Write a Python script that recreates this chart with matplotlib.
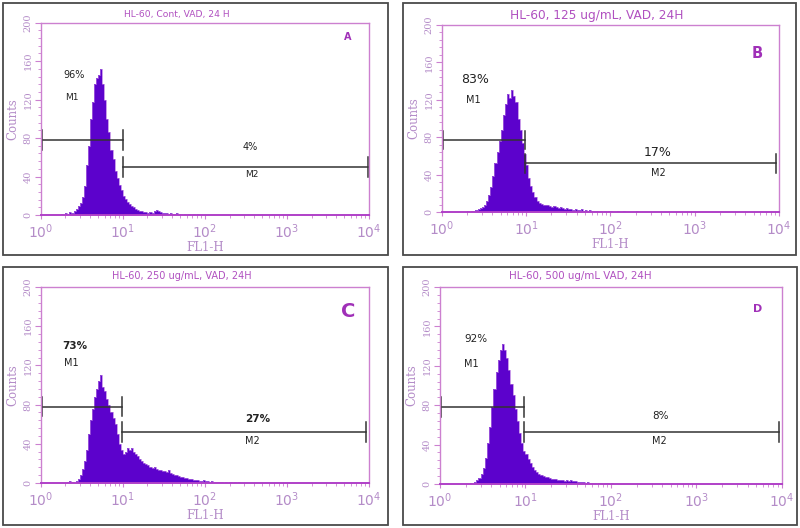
import numpy as np
import matplotlib
matplotlib.use("Agg")
import matplotlib.pyplot as plt
from matplotlib.patches import Rectangle
from matplotlib.ticker import MultipleLocator, LogLocator, NullFormatter

plt.rcParams['mathtext.fontset'] = 'stix'

# ---------------- data ----------------
log_start = 0.25          # log10 of first channel edge
log_step = 0.025          # channel width in log10 units

hist_a = [1, 0, 2, 1, 3, 2, 4, 6, 9, 13, 19, 30, 52, 72, 100, 118, 136, 142, 146, 152,
          136, 120, 100, 86, 68, 58, 46, 38, 31, 26, 20, 17, 14, 11, 9, 8, 6, 5, 4, 4,
          3, 3, 2, 3, 2, 4, 5, 4, 3, 2, 2, 2, 1, 2, 1, 1, 2, 1, 1, 0, 1, 0, 1, 0, 1, 0, 1]
hist_b = [0, 0, 1, 0, 1, 1, 2, 3, 4, 5, 7, 12, 18, 27, 38, 52, 64, 76, 88, 104,
          116, 126, 122, 130, 124, 118, 100, 88, 74, 62, 50, 36, 28, 21, 16, 12, 10, 9, 8, 7,
          7, 6, 5, 6, 5, 4, 5, 4, 3, 4, 3, 3, 2, 3, 2, 2, 3, 1, 2, 1, 2, 1, 1, 1, 0, 1,
          0, 1, 0, 1, 1, 0, 0, 1, 0, 0, 1, 0, 0, 0, 0, 0, 1]
hist_c = [0, 0, 0, 1, 2, 1, 0, 2, 4, 8, 14, 22, 34, 50, 64, 76, 88, 96, 104, 110,
          98, 94, 86, 80, 72, 66, 60, 50, 40, 34, 30, 32, 36, 34, 36, 32, 30, 28, 24, 22,
          20, 19, 18, 16, 15, 16, 14, 13, 13, 12, 12, 11, 13, 10, 9, 8, 8, 7, 6, 6,
          5, 5, 4, 4, 3, 3, 3, 2, 2, 3, 2, 2, 1, 2, 1, 1, 1, 1, 1, 0, 1, 0, 1, 0, 1, 0, 1]
hist_d = [0, 0, 0, 0, 1, 0, 2, 4, 6, 10, 16, 26, 42, 58, 78, 96, 114, 126, 136, 142,
          136, 128, 116, 102, 90, 76, 64, 52, 42, 34, 30, 25, 21, 17, 14, 12, 10, 9, 8, 7,
          7, 6, 5, 5, 5, 4, 4, 4, 3, 4, 3, 4, 3, 3, 2, 2, 2, 2, 1, 2, 1, 1, 1, 0, 1, 1,
          0, 1, 1, 0, 1]

titles = ["HL-60, Cont, VAD, 24 H", "HL-60, 125 ug/mL, VAD, 24H",
          "HL-60, 250 ug/mL, VAD, 24H", "HL-60, 500 ug/mL VAD, 24H"]
letters = ["A", "B", "C", "D"]
m1_pct = ["96%", "83%", "73%", "92%"]
m2_pct = ["4%", "17%", "27%", "8%"]
# marker gates: (low, high, level)
m1_gate = [(1.05, 10.0, 78), (1.03, 9.8, 77), (1.05, 9.9, 78), (1.03, 9.7, 78)]
m2_gate = [(10.0, 9600, 50), (9.8, 9300, 52), (9.9, 9300, 52), (9.7, 9300, 53)]
# label anchor positions (x, y) in data units
m1_pct_pos = [(2.55, 146), (2.48, 142), (2.62, 140), (2.64, 147)]
m1_lab_pos = [(2.40, 122), (2.35, 120), (2.39, 122), (2.35, 122)]
m2_pct_pos = [(355, 71), (359, 64), (435, 65), (377, 69)]
m2_lab_pos = [(370, 42), (368, 42), (376, 43), (367, 44)]
y_ticks = [0, 40, 80, 120, 160, 200]
hists = [hist_a, hist_b, hist_c, hist_d]

# ---------------- layout / style ----------------
W, H = 800, 528
fig = plt.figure(figsize=(8, 5.28), dpi=100)
fig.patch.set_facecolor('white')

def fx(x): return x / W
def fy(y): return 1 - y / H

boxes = [(3, 3, 388, 255), (403, 3, 796, 255), (3, 267, 388, 525), (403, 267, 797, 525)]
axpos = [(40.7, 22.7, 369, 215), (441.7, 25, 779, 212), (40.7, 287, 369, 483), (440, 287, 781.7, 484)]
title_pos = [(177, 15), (597, 15), (182, 276), (580, 276)]
title_size = [6.6, 8.7, 7.0, 7.4]
pct_size = [7, 9, 7.5, 7.5]
pct_weight = ['normal', 'normal', 'bold', 'normal']
letter_pos = [(0.936, 0.927), (0.935, 0.85), (0.936, 0.875), (0.93, 0.89)]
letter_size = [7, 10.5, 14, 8]
m_size = [6.5, 7, 7, 7]

fill_col = '#5c02cc'
edge_col = '#b070e0'
spine_col = '#cc80d0'
tick_col = '#b48cc8'
title_col = '#b050c0'
letter_col = '#a030b8'
gate_col = '#333333'

for i in range(4):
    x0, y0, x1, y1 = boxes[i]
    fig.patches.append(Rectangle((fx(x0), fy(y1)), fx(x1 - x0), (y1 - y0) / H,
                                 transform=fig.transFigure, fill=False,
                                 edgecolor='#4a4a4a', lw=1.3))
    ax0, ay0, ax1, ay1 = axpos[i]
    ax = fig.add_axes([fx(ax0), fy(ay1), fx(ax1 - ax0), (ay1 - ay0) / H])
    counts = np.array(hists[i], dtype=float)
    edges = 10 ** (log_start + log_step * np.arange(len(counts) + 1))
    ax.stairs(counts, edges, fill=True, color=fill_col, lw=0)
    ax.stairs(counts, edges, color=edge_col, lw=0.5)
    ax.set_xscale('log')
    ax.set_xlim(1, 1e4)
    ax.set_ylim(0, 200)
    ax.set_yticks(y_ticks)
    ax.yaxis.set_minor_locator(MultipleLocator(8))
    ax.xaxis.set_major_locator(LogLocator(base=10, numticks=10))
    ax.xaxis.set_minor_locator(LogLocator(base=10, subs=np.arange(2, 10), numticks=20))
    ax.xaxis.set_minor_formatter(NullFormatter())
    for s in ax.spines.values():
        s.set_color(spine_col)
        s.set_linewidth(1.0)
    ax.spines['bottom'].set_color('#b040c8')
    ax.spines['bottom'].set_linewidth(1.4)
    ax.tick_params(axis='both', which='both', colors=spine_col, labelcolor=tick_col)
    ax.tick_params(axis='x', which='major', length=3, labelsize=10, pad=2)
    ax.tick_params(axis='x', which='minor', length=2)
    ax.tick_params(axis='y', which='major', length=4, labelsize=7, pad=2)
    ax.tick_params(axis='y', which='minor', length=2)
    for lab in ax.get_yticklabels():
        lab.set_rotation(90)
        lab.set_va('center')
        lab.set_family('DejaVu Serif')
    ax.set_xlabel('FL1-H', color=tick_col, fontsize=8.5, family='DejaVu Serif', labelpad=0)
    ax.set_ylabel('Counts', color=tick_col, fontsize=8.5, family='DejaVu Serif', labelpad=3)

    # gates
    for (lo, hi, lv) in (m1_gate[i], m2_gate[i]):
        ax.plot([lo, hi], [lv, lv], color=gate_col, lw=1.1)
        ax.plot([lo, lo], [lv - 10, lv + 10], color=gate_col, lw=1.1)
        ax.plot([hi, hi], [lv - 10, lv + 10], color=gate_col, lw=1.1)

    ax.text(*m1_pct_pos[i], m1_pct[i], fontsize=pct_size[i], weight=pct_weight[i],
            color='#222222', ha='center', va='center')
    ax.text(*m1_lab_pos[i], 'M1', fontsize=m_size[i], color='#222222', ha='center', va='center')
    ax.text(*m2_pct_pos[i], m2_pct[i], fontsize=pct_size[i], weight=pct_weight[i],
            color='#222222', ha='center', va='center')
    ax.text(*m2_lab_pos[i], 'M2', fontsize=m_size[i], color='#222222', ha='center', va='center')
    ax.text(*letter_pos[i], letters[i], transform=ax.transAxes, fontsize=letter_size[i],
            weight='bold', color=letter_col, ha='center', va='center')
    tx, ty = title_pos[i]
    fig.text(fx(tx), fy(ty), titles[i], fontsize=title_size[i], color=title_col,
             ha='center', va='center')

fig.savefig('out.png', dpi=100)
